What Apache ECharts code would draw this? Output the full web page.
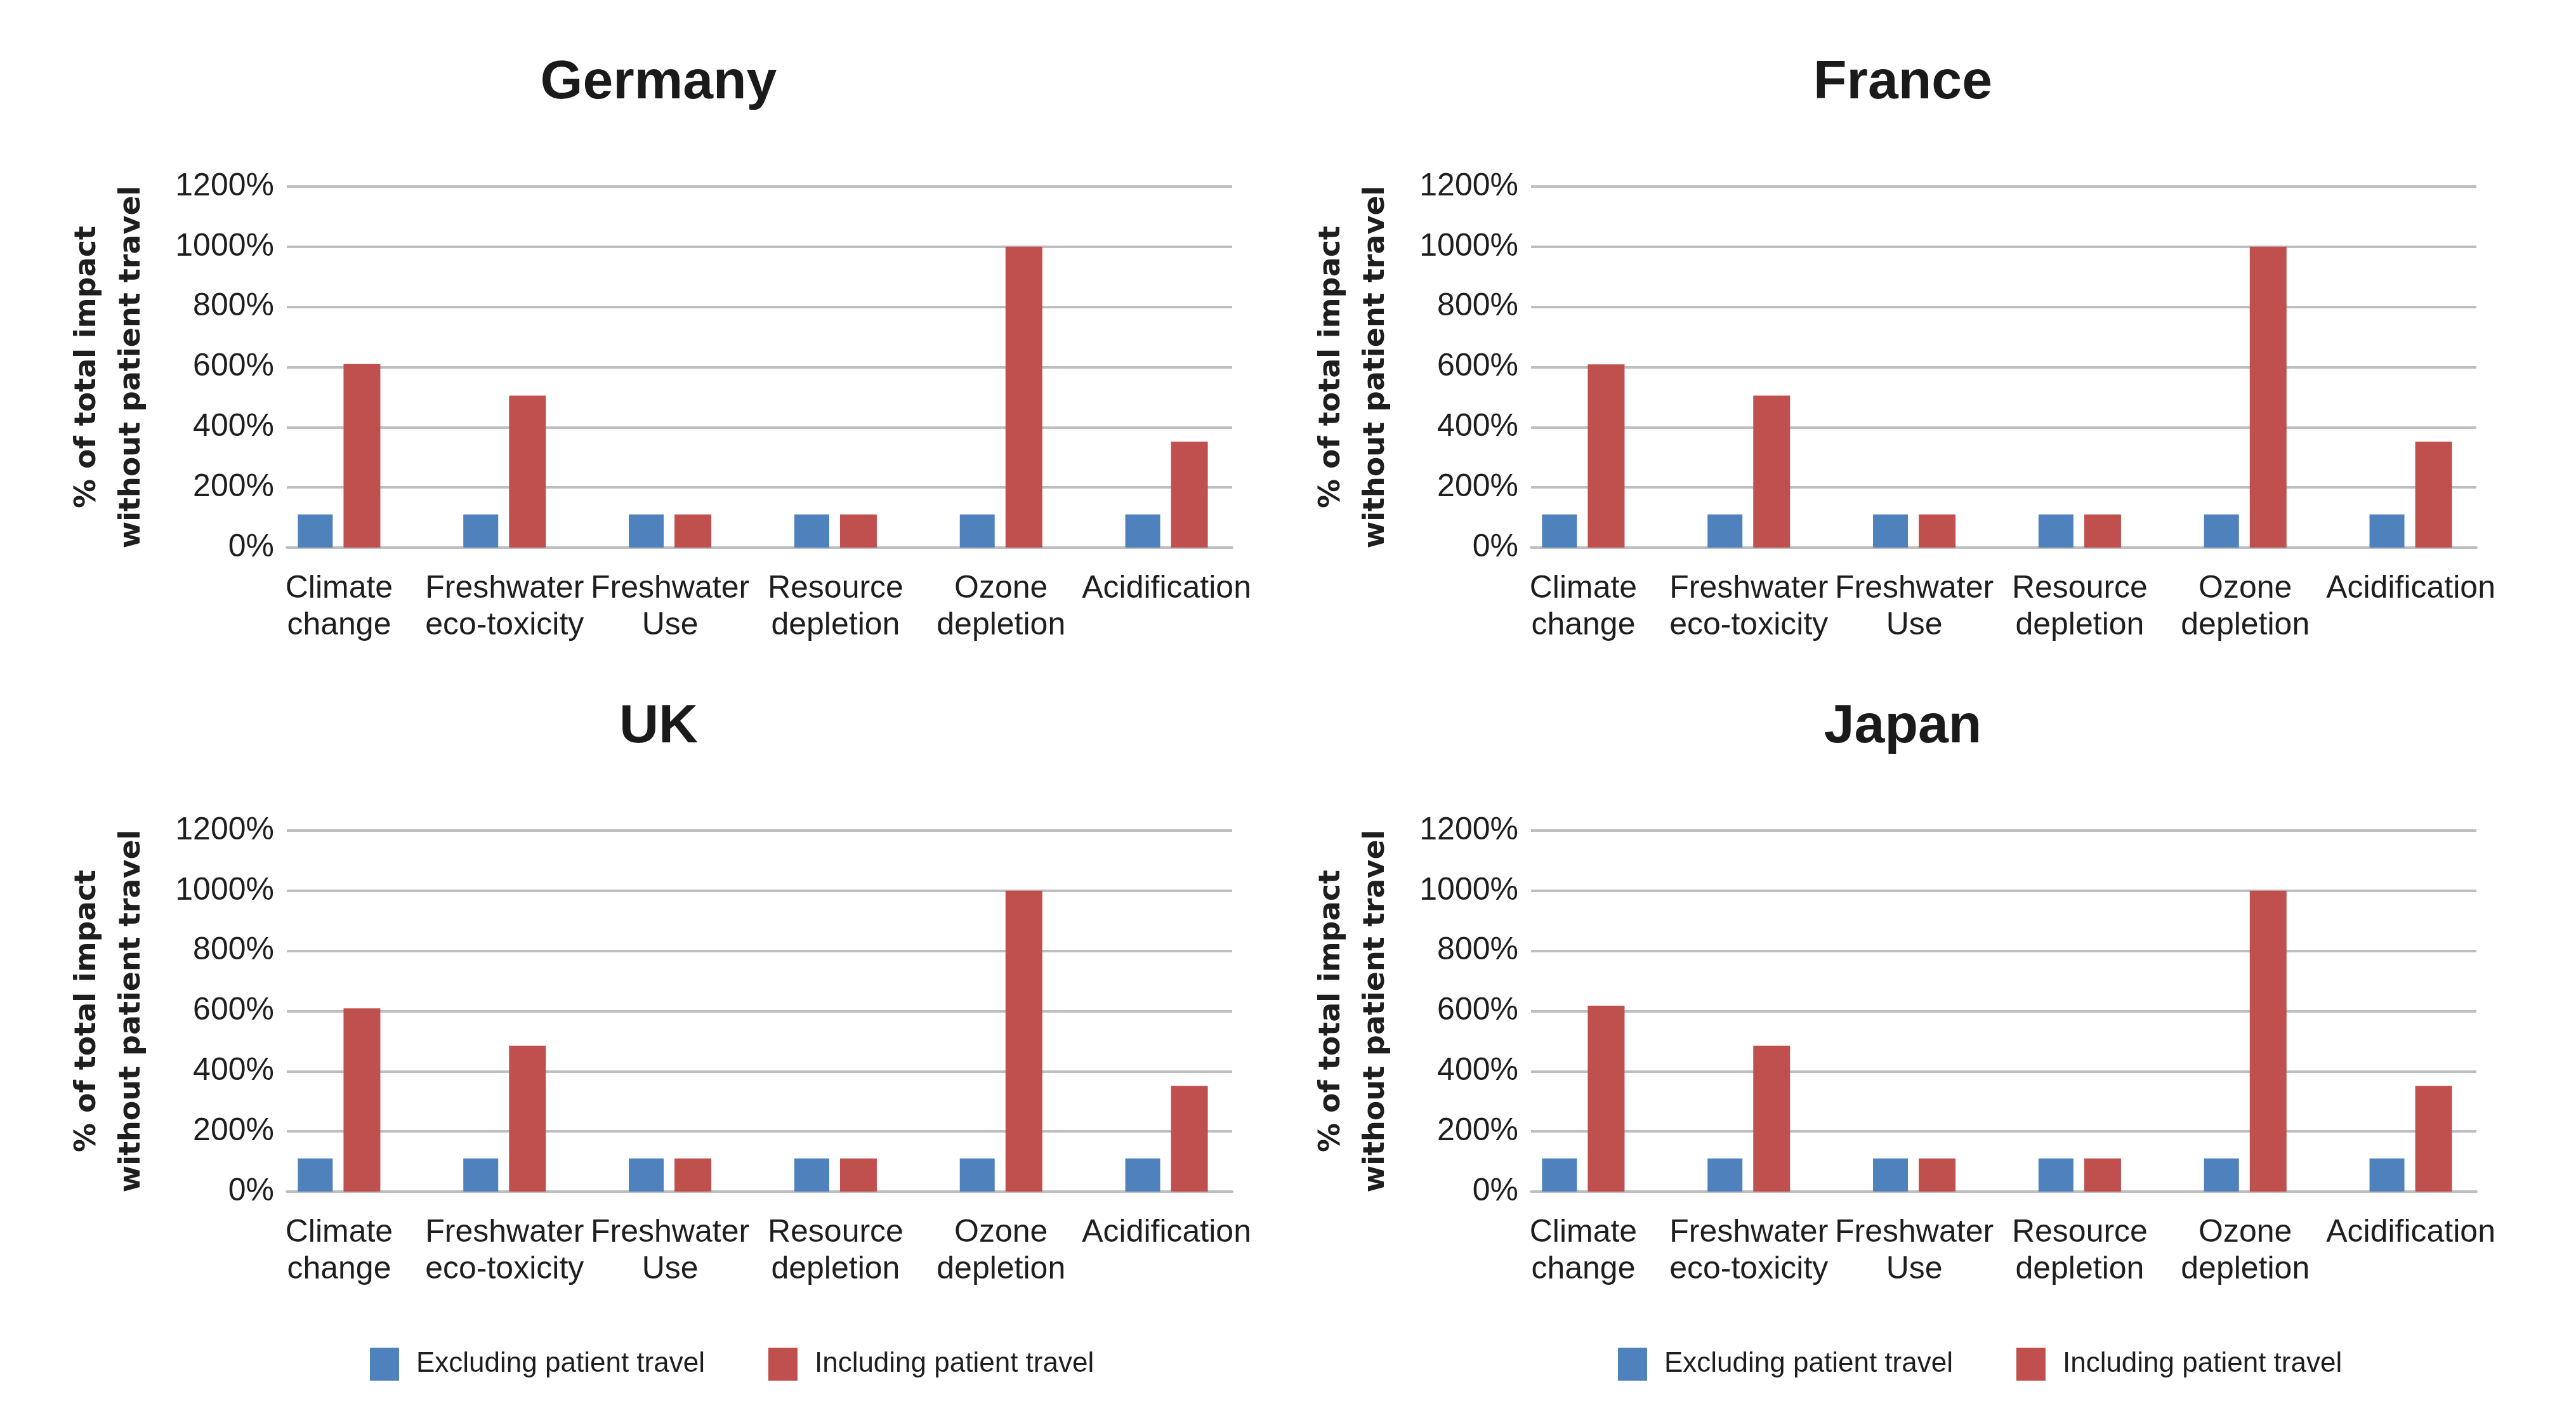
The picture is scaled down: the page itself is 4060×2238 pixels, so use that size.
<!DOCTYPE html>
<html>
<head>
<meta charset="utf-8">
<script src="https://cdn.jsdelivr.net/npm/echarts@6/dist/echarts.min.js"></script>
<style>
html,body{margin:0;padding:0;background:#fff;}
#chart{width:4060px;height:2238px;}
</style>
</head>
<body>
<div id="chart"></div>
<script>
// ---- data ----
const categories = ['Climate\nchange', 'Freshwater\neco-toxicity', 'Freshwater\nUse', 'Resource\ndepletion', 'Ozone\ndepletion', 'Acidification'];
const countries = ['Germany', 'France', 'UK', 'Japan'];
const seriesNames = ['Excluding patient travel', 'Including patient travel'];
const yTicks = [0, 200, 400, 600, 800, 1000, 1200];
const yAxisName = '% of total impact\nwithout patient travel';

const excludingGermany = [110, 110, 110, 110, 110, 110];
const includingGermany = [610, 505, 110, 110, 1000, 352];
const excludingFrance = [110, 110, 110, 110, 110, 110];
const includingFrance = [609, 505, 110, 110, 1000, 352];
const excludingUK = [110, 110, 110, 110, 110, 110];
const includingUK = [609, 485, 110, 110, 1000, 351];
const excludingJapan = [110, 110, 110, 110, 110, 110];
const includingJapan = [618, 485, 110, 110, 1000, 351];

const excluding = [excludingGermany, excludingFrance, excludingUK, excludingJapan];
const including = [includingGermany, includingFrance, includingUK, includingJapan];

// ---- layout / style ----
const colLeft = [452, 2413];     // left end of gridlines per column
const rowTop = [294, 1309];      // 1200% line per row
const plotW = 1490, plotH = 569;
const bandShift = 48, bandW = 1565;
const titleX = [1038, 2999];
const titleY = [131, 1146];
const GRID = '#BEBEC2';
const TXT = '#1e1e1e';
const FONT = '"Liberation Sans", Arial, sans-serif';
const BLUE = '#4F81BD', RED = '#C0504D';

const grids = [], xAxes = [], yAxes = [], series = [], graphics = [];
const yMin = yTicks[0], yMax = yTicks[yTicks.length - 1], yStep = yTicks[1] - yTicks[0];

countries.forEach((c, i) => {
  const col = i % 2, row = Math.floor(i / 2);
  grids.push({ left: colLeft[col], top: rowTop[row], width: plotW, height: plotH });
  xAxes.push({
    gridIndex: i, type: 'value', min: 0, max: 1,
    axisLabel: { show: false }, axisTick: { show: false }, splitLine: { show: false },
    axisLine: { show: true, lineStyle: { color: GRID, width: 4 } }
  });
  yAxes.push({
    gridIndex: i, type: 'value', min: yMin, max: yMax, interval: yStep,
    axisLine: { show: false }, axisTick: { show: false },
    splitLine: { show: true, lineStyle: { color: GRID, width: 4 } },
    axisLabel: { formatter: v => String(v) + '%', fontSize: 50, fontFamily: FONT, color: TXT, margin: 20 },
    name: yAxisName, nameLocation: 'middle', nameRotate: 90, nameGap: 209,
    nameTextStyle: { fontFamily: '"DejaVu Sans", Verdana, sans-serif', fontWeight: 'bold', fontSize: 46, lineHeight: 70, color: TXT }
  });
  graphics.push({
    type: 'text', x: titleX[col], y: titleY[row],
    style: { text: c, fontSize: 86, fontWeight: 'bold', fontFamily: FONT, fill: '#1a1a1a', align: 'center', verticalAlign: 'middle' }
  });
});

countries.forEach((c, i) => {
  const col = i % 2, row = Math.floor(i / 2);
  const g = 4 + i;
  grids.push({ left: colLeft[col] - bandShift, top: rowTop[row], width: bandW, height: plotH });
  xAxes.push({
    gridIndex: g, type: 'category', data: categories,
    axisLine: { show: false }, axisTick: { show: false },
    axisLabel: { interval: 0, fontSize: 50, lineHeight: 58, fontFamily: FONT, color: TXT, margin: 36 }
  });
  yAxes.push({ gridIndex: g, type: 'value', min: yMin, max: yMax, interval: yStep, show: false, splitLine: { show: false } });
  series.push({
    name: seriesNames[0], type: 'bar', xAxisIndex: g, yAxisIndex: g,
    data: excluding[i], barWidth: 55, barGap: '31%', itemStyle: { color: BLUE }, z: 3
  });
  series.push({
    name: seriesNames[1], type: 'bar', xAxisIndex: g, yAxisIndex: g,
    data: including[i], barWidth: 58, barGap: '31%', itemStyle: { color: RED }, z: 3
  });
});

const legendCommon = {
  orient: 'horizontal', top: 2119, itemWidth: 46, itemHeight: 52, itemGap: 100,
  icon: 'rect', data: seriesNames, selectedMode: true,
  textStyle: { fontSize: 44, fontFamily: FONT, color: TXT, padding: [0, 0, 0, 22] }
};

const option = {
  animation: false,
  backgroundColor: '#ffffff',
  grid: grids,
  xAxis: xAxes,
  yAxis: yAxes,
  series: series,
  legend: [
    Object.assign({}, legendCommon, { left: 578 }),
    Object.assign({}, legendCommon, { left: 2545 })
  ],
  graphic: graphics
};

const chart = echarts.init(document.getElementById('chart'), null, { renderer: 'canvas' });
chart.setOption(option);
</script>
</body>
</html>
